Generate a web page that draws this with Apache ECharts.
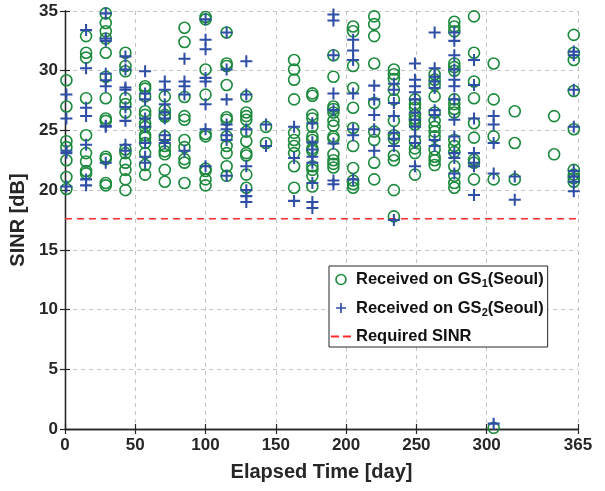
<!DOCTYPE html>
<html>
<head>
<meta charset="utf-8">
<script src="https://cdn.jsdelivr.net/npm/echarts@6/dist/echarts.min.js"></script>
<style>
  html, body { margin: 0; padding: 0; background: #fff; }
  #chart { width: 605px; height: 491px; }
</style>
</head>
<body>
<div id="chart"></div>
<script>
// Pass days (elapsed time, day) and the SINR of each pass at the two ground stations
const passDays = [1, 15, 29, 43, 57, 71, 85, 100, 115, 129, 143, 163, 176, 191, 205, 220, 234, 249, 263, 277, 291, 305, 320, 348, 362];

const gs1Sinr = [
  [29.2, 27.0, 24.1, 23.6, 22.5, 21.1, 20.1],
  [32.9, 31.5, 31.1, 27.7, 24.6, 23.1, 22.4, 21.6, 21.4],
  [34.8, 34.0, 33.3, 32.7, 31.5, 29.5, 27.7, 26.0, 25.8, 22.8, 22.6, 20.6, 20.4],
  [31.5, 30.4, 29.95, 27.7, 27.2, 26.5, 23.4, 23.1, 22.3, 21.7, 20.9, 20.0],
  [28.7, 28.5, 27.85, 26.6, 26.3, 25.6, 25.3, 24.6, 24.4, 23.95, 23.1, 22.1, 21.3],
  [27.85, 26.7, 26.3, 26.15, 24.5, 23.7, 23.25, 23.0, 21.7, 20.7],
  [33.6, 32.4, 27.8, 26.2, 25.9, 24.2, 23.6, 22.6, 22.3, 20.6],
  [34.5, 34.3, 30.1, 28.0, 24.7, 24.5, 21.8, 21.6, 20.9, 20.4],
  [33.2, 30.6, 30.4, 28.8, 26.1, 25.9, 24.5, 23.7, 23.1, 22.0, 21.2],
  [27.85, 26.5, 26.2, 25.9, 24.9, 24.1, 23.1, 22.9, 21.3, 20.2],
  [25.3, 23.95],
  [30.9, 30.1, 29.25, 27.6, 24.8, 24.2, 23.7, 23.1, 22.0, 20.2],
  [28.1, 27.9, 26.3, 26.0, 25.3, 24.5, 24.2, 23.5, 23.3, 22.0, 21.7, 21.2, 20.3],
  [31.3, 29.5, 27.0, 26.8, 26.5, 25.8, 25.4, 24.5, 24.3, 23.0, 22.5, 22.2, 21.9],
  [33.7, 33.3, 30.4, 28.55, 26.9, 25.2, 23.7, 21.85, 20.8, 20.5, 20.2],
  [34.55, 33.9, 32.9, 30.6, 27.3, 24.9, 24.2, 22.3, 20.9],
  [30.1, 29.7, 29.3, 28.4, 27.6, 25.8, 24.6, 24.3, 22.9, 22.5, 20.0, 17.8],
  [27.6, 27.2, 26.9, 26.3, 26.0, 25.8, 25.5, 24.1, 23.5, 23.1, 21.3],
  [29.7, 29.25, 28.8, 27.85, 26.5, 25.8, 25.3, 24.9, 24.5, 23.4, 22.8, 22.5, 22.1],
  [34.1, 33.7, 33.3, 30.6, 30.3, 30.0, 27.6, 27.2, 26.8, 26.5, 24.2, 23.7, 23.2, 22.0, 21.2, 20.6, 20.2],
  [34.55, 31.5, 29.1, 27.7, 25.6, 24.4, 22.55, 22.3, 20.9],
  [30.6, 27.6, 24.5, 20.9, 0.1],
  [26.6, 23.95, 20.9],
  [26.2, 23.0],
  [33.0, 31.5, 30.9, 28.3, 25.1, 21.7, 21.3, 21.0, 20.7]
];

const gs2Sinr = [
  [28.0, 26.0, 23.3, 23.1, 20.3],
  [33.4, 30.2, 26.9, 26.2, 23.8, 20.9, 20.4],
  [34.8, 32.7, 32.5, 29.75, 29.2, 28.7, 25.4, 25.3, 22.3],
  [31.2, 30.1, 28.6, 28.4, 26.95, 25.8, 23.8, 23.3],
  [29.95, 28.1, 27.6, 26.0, 25.3, 23.95, 22.8, 22.3],
  [29.1, 28.4, 27.2, 26.5, 26.0, 24.6, 24.2, 23.95],
  [31.0, 29.1, 28.7, 28.0, 23.3],
  [34.3, 32.6, 31.8, 29.4, 29.1, 27.2, 25.1, 22.0],
  [33.2, 30.1, 27.6, 25.5, 25.1, 24.6, 24.2, 21.2],
  [30.8, 28.0, 25.1, 22.0, 20.0, 19.5, 19.0],
  [25.5, 23.7],
  [25.3, 22.7, 19.1],
  [25.6, 24.0, 23.4, 22.8, 22.3, 20.6, 19.0, 18.5],
  [34.7, 34.2, 31.3, 28.1, 26.7, 23.9, 20.8, 20.5],
  [32.6, 31.7, 30.9, 28.1, 25.1, 24.6, 20.9],
  [28.75, 27.6, 26.3, 25.1, 23.3],
  [28.9, 28.4, 27.3, 26.2, 24.8, 24.3, 23.7, 17.5],
  [30.6, 29.25, 28.7, 28.2, 27.6, 26.5, 25.9, 25.3, 24.5, 23.95, 22.0],
  [33.2, 30.2, 29.5, 29.1, 28.55, 26.7, 26.3, 24.2, 23.7],
  [33.2, 32.5, 31.3, 30.1, 29.25, 28.7, 27.6, 25.9, 24.5, 23.1, 22.7, 21.4],
  [30.9, 28.8, 26.0, 23.1, 22.3, 22.0, 19.6],
  [26.2, 25.5, 23.95, 21.4, 0.45],
  [21.15, 19.2],
  [],
  [31.6, 31.3, 28.4, 25.3, 21.6, 21.15, 20.7, 19.9]
];

const requiredSinr = 17.6;
const dayRange = [0, 365];
const xTicks = [0, 50, 100, 150, 200, 250, 300, 365];

const GS1_NAME = 'Received on GS1(Seoul)';
const GS2_NAME = 'Received on GS2(Seoul)';
const REQ_NAME = 'Required SINR';

const GREEN = '#1b8a3c';
const BLUE = '#2f4ea6';
const RED = '#ff2a2a';
const INK = '#262626';
const FONT = "'Liberation Sans', Arial, sans-serif";

// flatten per-pass lists into [day, sinr] pairs
function toPoints(lists) {
  const pts = [];
  passDays.forEach((d, i) => lists[i].forEach(v => pts.push([d, v])));
  return pts;
}

// filled plus marker
const PLUS = 'path://M-0.17,-1H0.17V-0.17H1V0.17H0.17V1H-0.17V0.17H-1V-0.17H-0.17Z';
const DASH_ICON = 'path://M0,0H8V2H0ZM12,0H20V2H12Z';

const chart = echarts.init(document.getElementById('chart'), null, { renderer: 'canvas' });

const axisLine = { show: true, lineStyle: { color: INK, width: 1.3 } };
const insideTick = { show: true, inside: true, length: 5, lineStyle: { color: INK, width: 1.2 } };
const gridDash = { show: true, lineStyle: { color: '#c4c4c4', width: 1, type: [4, 4] } };

const option = {
  animation: false,
  backgroundColor: '#fff',
  textStyle: { fontFamily: FONT },
  grid: { left: 64, right: 27, top: 11, bottom: 62 },
  xAxis: [
    {
      type: 'value', min: dayRange[0], max: dayRange[1],
      name: 'Elapsed Time [day]', nameLocation: 'middle', nameGap: 33,
      nameTextStyle: { fontFamily: FONT, fontWeight: 'bold', fontSize: 20, color: INK },
      axisLine, axisTick: Object.assign({ customValues: xTicks }, insideTick),
      axisLabel: { customValues: xTicks, margin: 8, fontFamily: FONT, fontWeight: 'bold', fontSize: 17, color: INK },
      splitLine: gridDash
    },
    {
      type: 'value', min: dayRange[0], max: dayRange[1], position: 'top',
      axisLine, axisTick: Object.assign({ customValues: xTicks }, insideTick),
      axisLabel: { show: false }, splitLine: { show: false }
    }
  ],
  yAxis: [
    {
      type: 'value', min: 0, max: 35, interval: 5,
      name: 'SINR [dB]', nameLocation: 'middle', nameGap: 37, nameRotate: 90,
      nameTextStyle: { fontFamily: FONT, fontWeight: 'bold', fontSize: 20, color: INK },
      axisLine, axisTick: insideTick,
      axisLabel: { margin: 7, fontFamily: FONT, fontWeight: 'bold', fontSize: 17, color: INK },
      splitLine: gridDash
    },
    {
      type: 'value', min: 0, max: 35, interval: 5, position: 'right',
      axisLine, axisTick: insideTick,
      axisLabel: { show: false }, splitLine: { show: false }
    }
  ],
  legend: {
    left: 329, top: 266, orient: 'vertical',
    backgroundColor: '#fff', borderColor: INK, borderWidth: 1,
    padding: [5, 4, 2, 2], itemGap: 10, itemWidth: 20, itemHeight: 10,
    data: [
      { name: GS1_NAME, icon: 'circle', itemStyle: { color: '#fff', borderColor: GREEN, borderWidth: 1.6 } },
      { name: GS2_NAME, icon: PLUS, itemStyle: { color: BLUE, borderWidth: 0 } },
      { name: REQ_NAME, icon: DASH_ICON, itemStyle: { color: RED, borderWidth: 0 } }
    ],
    formatter: function (name) {
      if (name === GS1_NAME) return '{t|Received on GS}{s|1}{t|(Seoul)}';
      if (name === GS2_NAME) return '{t|Received on GS}{s|2}{t|(Seoul)}';
      return '{t|' + name + '}';
    },
    textStyle: {
      fontFamily: FONT, fontWeight: 'bold', fontSize: 16.5, color: '#111',
      rich: {
        t: { fontFamily: FONT, fontWeight: 'bold', fontSize: 16.5, color: '#111', lineHeight: 20 },
        s: { fontFamily: FONT, fontWeight: 'bold', fontSize: 11, color: '#111', lineHeight: 10, verticalAlign: 'bottom' }
      }
    }
  },
  series: [
    {
      name: REQ_NAME, type: 'line', xAxisIndex: 0, yAxisIndex: 0,
      data: [[dayRange[0], requiredSinr], [dayRange[1], requiredSinr]],
      showSymbol: false, symbol: 'none', z: 1,
      lineStyle: { color: RED, width: 1.6, type: [7, 5] },
      itemStyle: { color: RED }
    },
    {
      name: GS1_NAME, type: 'scatter', xAxisIndex: 0, yAxisIndex: 0,
      data: toPoints(gs1Sinr), symbol: 'circle', symbolSize: 11, z: 2,
      itemStyle: { color: 'rgba(0,0,0,0)', borderColor: GREEN, borderWidth: 1.6, opacity: 1 }
    },
    {
      name: GS2_NAME, type: 'scatter', xAxisIndex: 0, yAxisIndex: 0,
      data: toPoints(gs2Sinr), symbol: PLUS, symbolSize: 12, z: 3,
      itemStyle: { color: BLUE, opacity: 1 }
    }
  ]
};

chart.setOption(option);
</script>
</body>
</html>
